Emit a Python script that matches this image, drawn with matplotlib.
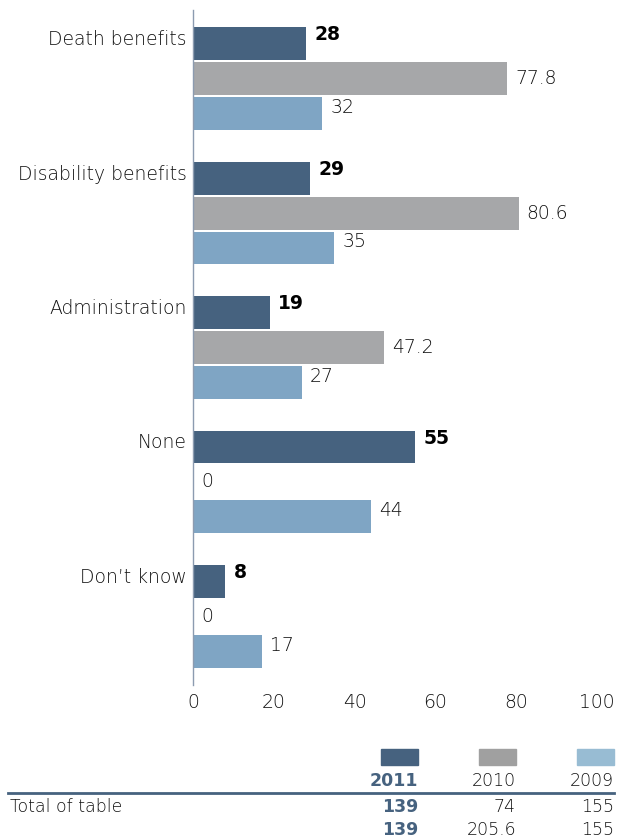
import matplotlib.pyplot as plt
import numpy as np

plt.rcParams['font.family'] = ['DejaVu Sans']

categories = ['Death benefits', 'Disability benefits', 'Administration', 'None', 'Don\u2019t know']
years = ['2011', '2010', '2009']
v2011 = [28, 29, 19, 55, 8]
v2010 = [77.8, 80.6, 47.2, 0, 0]
v2009 = [32, 35, 27, 44, 17]
totals_a = ['139', '74', '155']
totals_b = ['139', '205.6', '155']

bar_colors = ['#46627f', '#a6a7a9', '#7fa5c4']
legend_colors = ['#46627f', '#a0a0a0', '#98bcd3']
txt_color = '#111111'
fs = 13.5

W, H = 619, 839
fig = plt.figure(figsize=(W / 100, H / 100), dpi=100)
ax = fig.add_axes([193 / W, 1 - 685 / H, (597 - 193) / W, (685 - 10) / H])

y = np.arange(len(categories))
off = 0.26
hgt = 0.245
series = [v2011, v2010, v2009]
shift = [-0.065, 0.0, -0.045]
for i, vals in enumerate(series):
    ypos = y + (i - 1) * off
    ax.barh(ypos, vals, height=hgt, color=bar_colors[i])
    for yy, v in zip(ypos, vals):
        txt = ('%g' % v)
        if i == 0:
            ax.text(v + 2, yy + shift[i], txt, ha='left', va='center',
                    fontsize=fs, fontweight='bold', color='#000000')
        else:
            ax.text(v + 2, yy + shift[i], txt, ha='left', va='center',
                    fontsize=fs, fontweight='light', color=txt_color)

for yy, c in zip(y - off, categories):
    ax.text(-1.5, yy - 0.03, c, ha='right', va='center', fontsize=fs,
            fontweight='light', color=txt_color)

ax.set_xlim(0, 100)
ax.set_ylim(4.51, -0.51)
ax.set_yticks([])
ax.set_xticks([0, 20, 40, 60, 80, 100])
ax.tick_params(axis='x', length=0, labelsize=fs, labelcolor=txt_color, pad=6)
for lab in ax.get_xticklabels():
    lab.set_fontweight('light')
for s in ['top', 'right', 'bottom']:
    ax.spines[s].set_visible(False)
ax.spines['left'].set_color('#8c9bb0')
ax.spines['left'].set_linewidth(1)

# table below the chart
col_right = [418, 516, 614]
for i, x in enumerate(col_right):
    fig.patches.append(plt.Rectangle(((x - 37) / W, 1 - 765 / H), 37 / W, 16 / H,
                                     transform=fig.transFigure, color=legend_colors[i]))
    bold = i == 0
    col = '#46627f' if bold else txt_color
    fw = 'bold' if bold else 'light'
    fig.text(x / W, 1 - 781 / H, years[i], ha='right', va='center',
             fontsize=12.5, fontweight=fw, color=col)
    fig.text(x / W, 1 - 807 / H, totals_a[i], ha='right', va='center',
             fontsize=12.5, fontweight=fw, color=col)
    fig.text(x / W, 1 - 830 / H, totals_b[i], ha='right', va='center',
             fontsize=12.5, fontweight=fw, color=col)

fig.add_artist(plt.Line2D([8 / W, 614 / W], [1 - 793 / H, 1 - 793 / H],
                          transform=fig.transFigure, color='#46627f', linewidth=2))
fig.text(10 / W, 1 - 807 / H, 'Total of table', ha='left', va='center',
         fontsize=12.5, fontweight='light', color=txt_color)

fig.savefig('out.png', dpi=100)
